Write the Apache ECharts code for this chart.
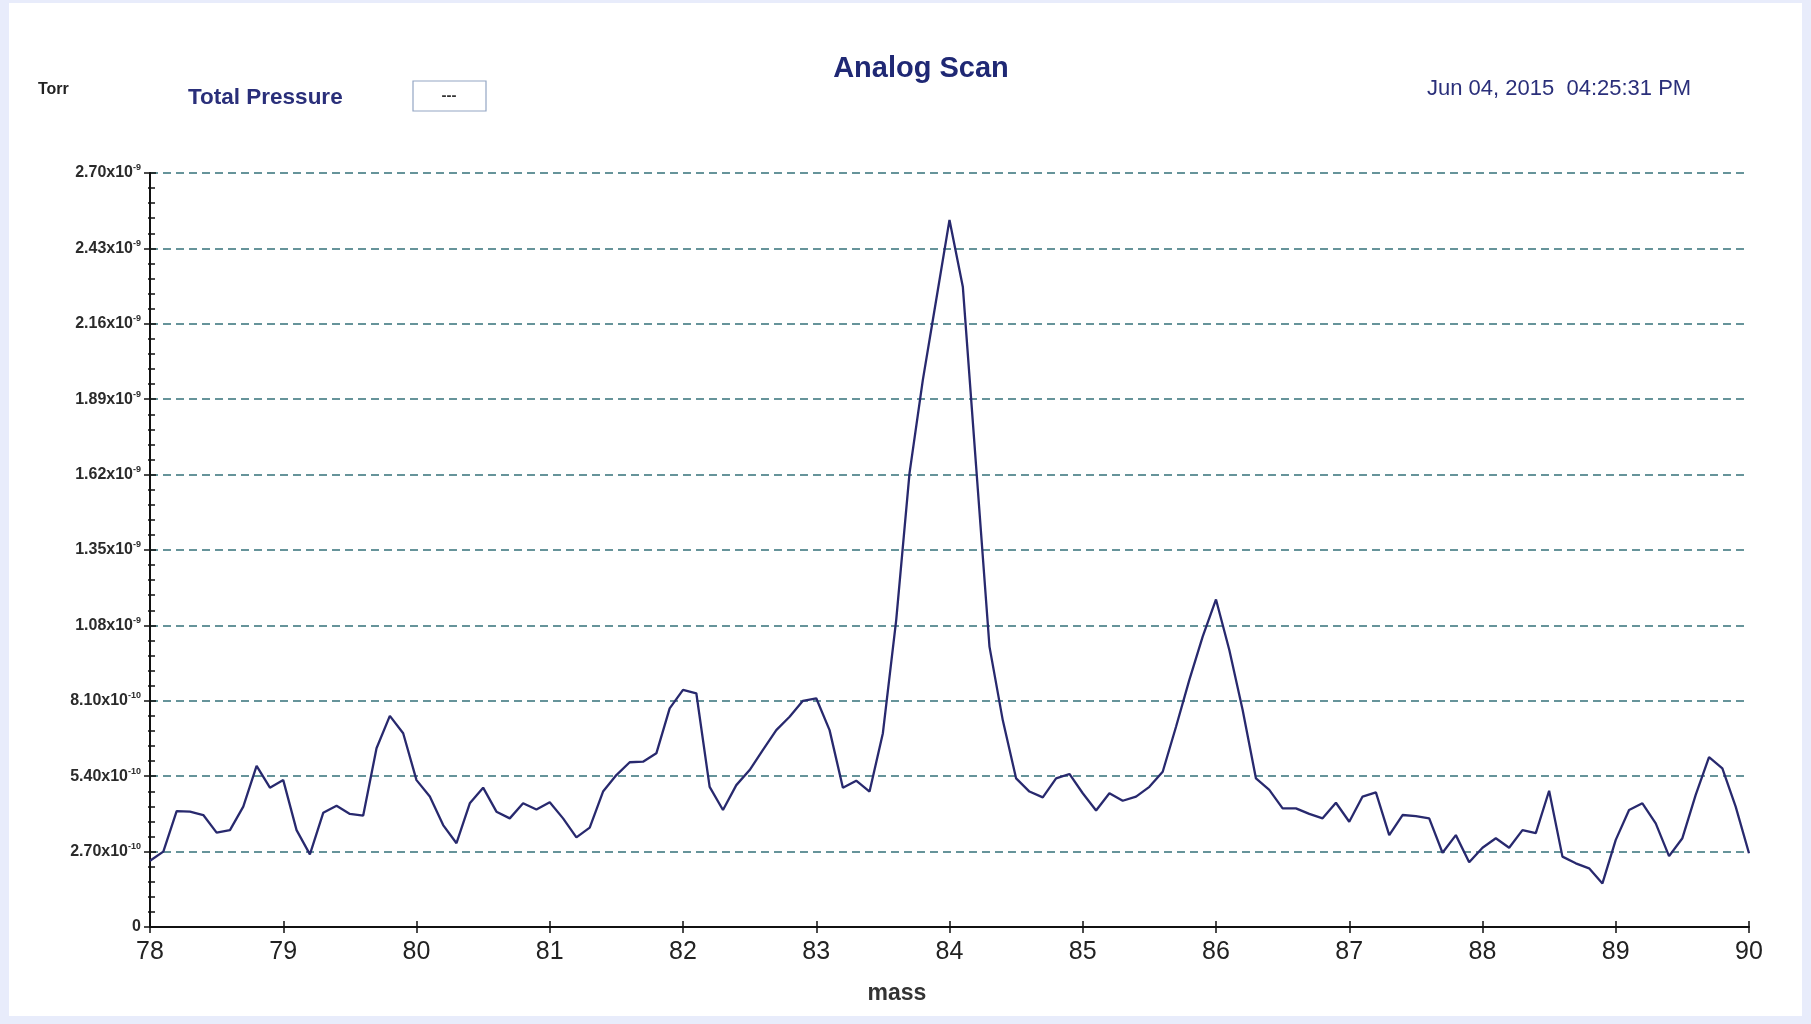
<!DOCTYPE html>
<html><head><meta charset="utf-8">
<script src="https://cdn.jsdelivr.net/npm/echarts@6/dist/echarts.min.js"></script>
<style>
html,body{margin:0;padding:0;width:1811px;height:1024px;background:#e8ecfb;overflow:hidden}
#c{position:absolute;left:9px;top:3px;width:1793px;height:1013px;background:#ffffff}
</style></head><body><div id="c"></div>
<script>
// mass axis (amu), one sample every 0.1 amu
const MASS = [
78.0,78.1,78.2,78.3,78.4,78.5,78.6,78.7,78.8,78.9,
79.0,79.1,79.2,79.3,79.4,79.5,79.6,79.7,79.8,79.9,
80.0,80.1,80.2,80.3,80.4,80.5,80.6,80.7,80.8,80.9,
81.0,81.1,81.2,81.3,81.4,81.5,81.6,81.7,81.8,81.9,
82.0,82.1,82.2,82.3,82.4,82.5,82.6,82.7,82.8,82.9,
83.0,83.1,83.2,83.3,83.4,83.5,83.6,83.7,83.8,83.9,
84.0,84.1,84.2,84.3,84.4,84.5,84.6,84.7,84.8,84.9,
85.0,85.1,85.2,85.3,85.4,85.5,85.6,85.7,85.8,85.9,
86.0,86.1,86.2,86.3,86.4,86.5,86.6,86.7,86.8,86.9,
87.0,87.1,87.2,87.3,87.4,87.5,87.6,87.7,87.8,87.9,
88.0,88.1,88.2,88.3,88.4,88.5,88.6,88.7,88.8,88.9,
89.0,89.1,89.2,89.3,89.4,89.5,89.6,89.7,89.8,89.9,
90.0];
// pressure in units of 1e-10 Torr
const PRESSURE_E10 = [
2.37,2.70,4.15,4.13,4.01,3.38,3.47,4.31,5.77,4.99,
5.26,3.47,2.60,4.09,4.34,4.05,3.99,6.40,7.56,6.94,
5.26,4.67,3.65,3.00,4.43,4.99,4.13,3.89,4.43,4.21,
4.47,3.89,3.21,3.56,4.85,5.44,5.90,5.92,6.22,7.83,
8.49,8.37,5.02,4.19,5.08,5.62,6.34,7.05,7.53,8.10,
8.19,7.05,4.99,5.24,4.85,6.94,10.99,16.25,19.59,22.45,
25.32,22.93,16.48,10.04,7.40,5.32,4.85,4.64,5.32,5.48,
4.79,4.17,4.79,4.52,4.67,5.02,5.56,7.17,8.85,10.40,
11.73,9.92,7.77,5.32,4.91,4.25,4.25,4.05,3.89,4.45,
3.77,4.67,4.82,3.29,4.01,3.97,3.89,2.66,3.29,2.32,
2.84,3.18,2.84,3.47,3.36,4.88,2.52,2.28,2.10,1.56,
3.12,4.19,4.43,3.71,2.54,3.18,4.73,6.08,5.68,4.31,
2.64];
const Y_MIN = 0, Y_MAX = 27, Y_STEP = 2.7;
const Y_TICK_LABELS = [
  ['0',''],['2.70x10','-10'],['5.40x10','-10'],['8.10x10','-10'],
  ['1.08x10','-9'],['1.35x10','-9'],['1.62x10','-9'],['1.89x10','-9'],
  ['2.16x10','-9'],['2.43x10','-9'],['2.70x10','-9']];
const X_MIN = 78, X_MAX = 90, X_STEP = 1;
const TITLE = 'Analog Scan';
const UNIT_LABEL = 'Torr';
const TP_LABEL = 'Total Pressure';
const TP_VALUE = '---';
const DATE_TEXT = 'Jun 04, 2015  04:25:31 PM';
const X_NAME = 'mass';

const FONT = '"Liberation Sans", Arial, sans-serif';
const OX = 9, OY = 3;
const chart = echarts.init(document.getElementById('c'), null, {renderer:'canvas'});
const yFmt = function(v){
  const k = Math.round(v / Y_STEP);
  const t = Y_TICK_LABELS[k];
  if (!t) return '';
  return t[1] ? '{b|' + t[0] + '}{s|' + t[1] + '}' : '{b|' + t[0] + '}';
};
const tickColor = '#111';
chart.setOption({
  animation: false,
  backgroundColor: '#ffffff',
  grid: {left: 150 - OX, top: 173 - OY, right: 62 - OX, bottom: 1016 - 927, containLabel: false},
  xAxis: [{
    type: 'value', min: X_MIN, max: X_MAX, interval: X_STEP,
    axisLine: {show: true, lineStyle: {color: tickColor, width: 2}},
    axisTick: {show: true, length: 6, lineStyle: {color: tickColor, width: 1.5}},
    axisLabel: {fontFamily: FONT, fontSize: 25, color: '#222', margin: 13},
    splitLine: {show: false}
  }, {
    type: 'value', min: X_MIN, max: X_MAX, interval: X_STEP, position: 'bottom',
    axisLine: {show: false},
    axisTick: {show: true, inside: true, length: 6, lineStyle: {color: tickColor, width: 1.5}},
    axisLabel: {show: false}, splitLine: {show: false}
  }],
  yAxis: [{
    type: 'value', min: Y_MIN, max: Y_MAX, interval: Y_STEP,
    axisLine: {show: true, lineStyle: {color: tickColor, width: 2}},
    axisTick: {show: true, length: 6, lineStyle: {color: tickColor, width: 1.5}},
    minorTick: {show: true, splitNumber: 5, length: 2, lineStyle: {color: tickColor, width: 1.5}},
    axisLabel: {
      margin: 9, formatter: yFmt,
      rich: {
        b: {fontFamily: FONT, fontSize: 16, fontWeight: 'bold', color: '#2b2b2b'},
        s: {fontFamily: FONT, fontSize: 9, fontWeight: 'bold', color: '#2b2b2b', padding: [0, 0, 10, 0]}
      }
    },
    splitLine: {show: true, lineStyle: {color: '#357279', width: 1.5, type: [8, 5]}}
  }, {
    type: 'value', min: Y_MIN, max: Y_MAX, interval: Y_STEP, position: 'left',
    axisLine: {show: false},
    axisTick: {show: true, inside: true, length: 6, lineStyle: {color: tickColor, width: 1.5}},
    minorTick: {show: true, splitNumber: 5, length: 5, lineStyle: {color: tickColor, width: 1.5}},
    axisLabel: {show: false}, splitLine: {show: false}
  }],
  series: [{
    type: 'line', xAxisIndex: 0, yAxisIndex: 0,
    data: MASS.map((m, i) => [m, PRESSURE_E10[i]]),
    showSymbol: false, symbol: 'none', smooth: false,
    lineStyle: {color: '#28296e', width: 2.3},
    z: 5
  }],
  graphic: [
    {type: 'text', x: 921 - OX, y: 69 - OY, style: {text: TITLE, fontFamily: FONT, fontSize: 29, fontWeight: 'bold', fill: '#1f2874', align: 'center', verticalAlign: 'middle'}},
    {type: 'text', x: 38 - OX, y: 90 - OY, style: {text: UNIT_LABEL, fontFamily: FONT, fontSize: 16, fontWeight: 'bold', fill: '#222', align: 'left', verticalAlign: 'middle'}},
    {type: 'text', x: 188 - OX, y: 98 - OY, style: {text: TP_LABEL, fontFamily: FONT, fontSize: 22.5, fontWeight: 'bold', fill: '#2a2f7a', align: 'left', verticalAlign: 'middle'}},
    {type: 'rect', shape: {x: 413 - OX, y: 81 - OY, width: 73, height: 30}, style: {fill: '#ffffff', stroke: '#93a6c4', lineWidth: 1.2}},
    {type: 'text', x: 449 - OX, y: 96 - OY, style: {text: TP_VALUE, fontFamily: FONT, fontSize: 15, fontWeight: 'bold', fill: '#333', align: 'center', verticalAlign: 'middle'}},
    {type: 'text', x: 1427 - OX, y: 89 - OY, style: {text: DATE_TEXT, fontFamily: FONT, fontSize: 22, fill: '#2a2f7a', align: 'left', verticalAlign: 'middle'}},
    {type: 'text', x: 897 - OX, y: 994 - OY, style: {text: X_NAME, fontFamily: FONT, fontSize: 23, fontWeight: 'bold', fill: '#333', align: 'center', verticalAlign: 'middle'}}
  ]
});
</script></body></html>
